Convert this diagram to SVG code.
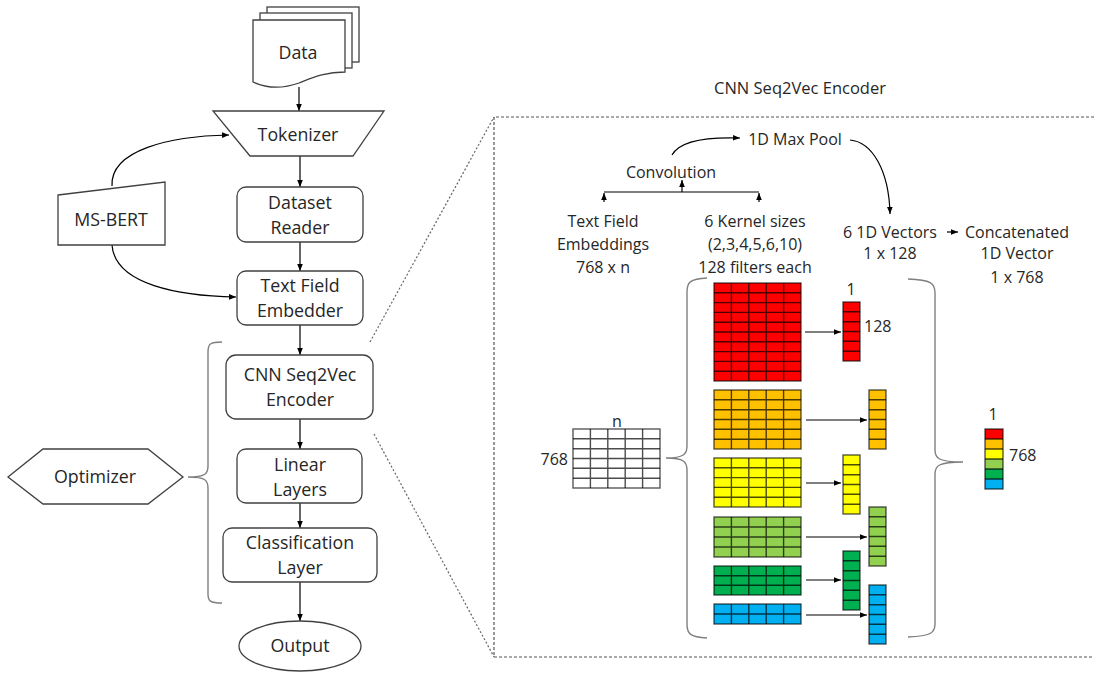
<svg xmlns="http://www.w3.org/2000/svg" width="1094" height="673" viewBox="0 0 1094 673">
<defs>
<style>
text{font-family:"Open Sans","Noto Sans","Liberation Sans",sans-serif;fill:#262626;text-anchor:middle}
.f{font-size:17.8px}
.r{font-size:16px}
.t{font-size:16.5px}
.shape{fill:#fff;stroke:#404040;stroke-width:1.3}
.con{fill:none;stroke:#000;stroke-width:1.2}
.dash{fill:none;stroke:#555;stroke-width:1.2;stroke-dasharray:3 2}
.dot{fill:none;stroke:#666;stroke-width:1.2;stroke-dasharray:2 2}
.brace{fill:none;stroke:#7f7f7f;stroke-width:1.4}
.gl{fill:none;stroke:#000;stroke-opacity:0.7;stroke-width:1.4}
.go{stroke:#000;stroke-opacity:0.65;stroke-width:1.4}
</style>
<marker id="ah" viewBox="0 0 10 10" refX="10" refY="5" markerWidth="7" markerHeight="7" markerUnits="userSpaceOnUse" orient="auto">
<path d="M0,1 L10,5 L0,9 z" fill="#000"/>
</marker>
</defs>
<rect width="1094" height="673" fill="#fff"/>

<g id="connectors">
<line class="con" x1="299" y1="87" x2="299" y2="111" marker-end="url(#ah)"/>
<line class="con" x1="300" y1="156" x2="300" y2="187" marker-end="url(#ah)"/>
<line class="con" x1="300" y1="242" x2="300" y2="271" marker-end="url(#ah)"/>
<line class="con" x1="300" y1="325" x2="300" y2="355" marker-end="url(#ah)"/>
<line class="con" x1="300" y1="419" x2="300" y2="449" marker-end="url(#ah)"/>
<line class="con" x1="300" y1="503" x2="300" y2="528" marker-end="url(#ah)"/>
<line class="con" x1="300" y1="582" x2="300" y2="621" marker-end="url(#ah)"/>
<path class="con" d="M112,186 C110,150 170,136 229,135" marker-end="url(#ah)"/>
<path class="con" d="M112,245 C115,285 180,296 236,297" marker-end="url(#ah)"/>
<path class="dot" d="M370,342 L494,117"/>
<path class="dot" d="M374,434 L494,657"/>
<path class="dash" d="M1094,117 H494 V657 H1094"/>
<path class="brace" d="M222,342 C210,342 208,344 208,352 L208,466 C208,474 205,477 188,477 C205,477 208,480 208,488 L208,594 C208,601 210,603 222,603"/>
<path class="con" d="M672,155 C680,140 710,137 740,138" marker-end="url(#ah)"/>
<path class="con" d="M850,140 C872,142 889,170 890,214" marker-end="url(#ah)"/>
<path class="con" d="M604,192 H759"/>
<line class="con" x1="604" y1="202" x2="604" y2="193" marker-end="url(#ah)"/>
<line class="con" x1="759" y1="202" x2="759" y2="193" marker-end="url(#ah)"/>
<line class="con" x1="682" y1="192" x2="682" y2="180" marker-end="url(#ah)"/>
<line class="con" x1="947" y1="232" x2="958" y2="232" marker-end="url(#ah)"/>
<path class="brace" d="M707,278 C690,279 687,282 687,292 L687,446 C687,454 684,458 666,458 C684,458 687,462 687,470 L687,624 C687,634 690,637 707,638"/>
<path class="brace" d="M908,279 C931,280 935,283 935,293 L935,450 C935,458 938,462 963,462 C938,462 935,466 935,474 L935,624 C935,633 931,636 908,637"/>
<line class="con" x1="805" y1="332" x2="841" y2="332" marker-end="url(#ah)"/>
<line class="con" x1="806" y1="420" x2="867" y2="420" marker-end="url(#ah)"/>
<line class="con" x1="806" y1="483" x2="841" y2="483" marker-end="url(#ah)"/>
<line class="con" x1="806" y1="537" x2="867" y2="537" marker-end="url(#ah)"/>
<line class="con" x1="806" y1="580" x2="841" y2="580" marker-end="url(#ah)"/>
<line class="con" x1="806" y1="615" x2="867" y2="615" marker-end="url(#ah)"/>
</g>

<g id="data">
<rect class="shape" x="267" y="7" width="92" height="55"/>
<rect class="shape" x="260" y="13" width="92" height="55"/>
<path class="shape" d="M253,20 H345 V72 C325,72 312,78 299,83 C285,88 268,89 253,82 Z"/>
<text class="f" x="298" y="59">Data</text>
</g>
<g id="tokenizer">
<path class="shape" d="M213,111 H384 L353,156 H250 Z"/>
<text class="f" x="298" y="141">Tokenizer</text>
</g>
<g id="ms-bert">
<path class="shape" d="M58,195 L165,182 V245 H58 Z"/>
<text class="f" x="111" y="226">MS-BERT</text>
</g>
<g id="dataset-reader">
<rect class="shape" x="237" y="187" width="126" height="55" rx="9"/>
<text class="f" x="300" y="209">Dataset</text>
<text class="f" x="300" y="234">Reader</text>
</g>
<g id="text-field-embedder">
<rect class="shape" x="237" y="271" width="126" height="54" rx="9"/>
<text class="f" x="300" y="292">Text Field</text>
<text class="f" x="300" y="317">Embedder</text>
</g>
<g id="cnn-encoder">
<rect class="shape" x="226" y="355" width="147" height="64" rx="10"/>
<text class="f" x="300" y="381">CNN Seq2Vec</text>
<text class="f" x="300" y="406">Encoder</text>
</g>
<g id="linear-layers">
<rect class="shape" x="237" y="449" width="125" height="54" rx="9"/>
<text class="f" x="300" y="471">Linear</text>
<text class="f" x="300" y="496">Layers</text>
</g>
<g id="classification-layer">
<rect class="shape" x="223" y="528" width="154" height="54" rx="9"/>
<text class="f" x="300" y="549">Classification</text>
<text class="f" x="300" y="574">Layer</text>
</g>
<g id="output">
<ellipse class="shape" cx="300" cy="646" rx="61" ry="25"/>
<text class="f" x="300" y="652">Output</text>
</g>
<g id="optimizer">
<path class="shape" d="M8,477 L43,449 H148 L183,477 L148,504 H43 Z"/>
<text class="f" x="95" y="483">Optimizer</text>
</g>

<g id="cnn-panel">
<text class="t" x="800" y="94">CNN Seq2Vec Encoder</text>
<text class="r" x="795" y="144.5">1D Max Pool</text>
<text class="r" x="671" y="177.5">Convolution</text>
<text class="r" x="603" y="226.5">Text Field</text>
<text class="r" x="603" y="249.5">Embeddings</text>
<text class="r" x="603" y="272.5">768 x n</text>
<text class="r" x="755" y="226.5">6 Kernel sizes</text>
<text class="r" x="755" y="249.5">(2,3,4,5,6,10)</text>
<text class="r" x="755" y="272.5">128 filters each</text>
<text class="r" x="890" y="237.5">6 1D Vectors</text>
<text class="r" x="890" y="258.5">1 x 128</text>
<text class="r" x="1017" y="237.5">Concatenated</text>
<text class="r" x="1017" y="258.5">1D Vector</text>
<text class="r" x="1017" y="282.5">1 x 768</text>
</g>

<g id="input-matrix">
<rect class="go" x="573" y="429" width="87" height="59" fill="#fff"/>
<path class="gl" d="M590.4,429V488M607.8,429V488M625.2,429V488M642.6,429V488M573,438.8H660M573,448.7H660M573,458.5H660M573,468.3H660M573,478.2H660"/>
<text class="r" x="617" y="427">n</text>
<text class="r" x="568" y="465" style="text-anchor:end">768</text>
</g>

<g id="conv-filters">
<rect class="go" x="714" y="283" width="87" height="98" fill="#FF0000"/>
<path class="gl" d="M731.4,283V381M748.8,283V381M766.2,283V381M783.6,283V381M714,292.8H801M714,302.6H801M714,312.4H801M714,322.2H801M714,332H801M714,341.8H801M714,351.6H801M714,361.4H801M714,371.2H801"/>
<rect class="go" x="714" y="390" width="87" height="59" fill="#FFC000"/>
<path class="gl" d="M731.4,390V449M748.8,390V449M766.2,390V449M783.6,390V449M714,399.8H801M714,409.7H801M714,419.5H801M714,429.3H801M714,439.2H801"/>
<rect class="go" x="714" y="458" width="87" height="49" fill="#FFFF00"/>
<path class="gl" d="M731.4,458V507M748.8,458V507M766.2,458V507M783.6,458V507M714,467.8H801M714,477.6H801M714,487.4H801M714,497.2H801"/>
<rect class="go" x="714" y="517" width="87" height="40" fill="#92D050"/>
<path class="gl" d="M731.4,517V557M748.8,517V557M766.2,517V557M783.6,517V557M714,527H801M714,537H801M714,547H801"/>
<rect class="go" x="714" y="566" width="87" height="29" fill="#00B050"/>
<path class="gl" d="M731.4,566V595M748.8,566V595M766.2,566V595M783.6,566V595M714,575.7H801M714,585.3H801"/>
<rect class="go" x="714" y="604" width="87" height="20" fill="#00B0F0"/>
<path class="gl" d="M731.4,604V624M748.8,604V624M766.2,604V624M783.6,604V624M714,614H801"/>
</g>

<g id="pooled-vectors">
<rect class="go" x="843" y="302" width="17" height="59" fill="#FF0000"/>
<path class="gl" d="M843,311.8H860M843,321.7H860M843,331.5H860M843,341.3H860M843,351.2H860"/>
<rect class="go" x="869" y="390" width="17" height="59" fill="#FFC000"/>
<path class="gl" d="M869,399.8H886M869,409.7H886M869,419.5H886M869,429.3H886M869,439.2H886"/>
<rect class="go" x="843" y="455" width="17" height="59" fill="#FFFF00"/>
<path class="gl" d="M843,464.8H860M843,474.7H860M843,484.5H860M843,494.3H860M843,504.2H860"/>
<rect class="go" x="869" y="507" width="17" height="59" fill="#92D050"/>
<path class="gl" d="M869,516.8H886M869,526.7H886M869,536.5H886M869,546.3H886M869,556.2H886"/>
<rect class="go" x="843" y="551" width="17" height="59" fill="#00B050"/>
<path class="gl" d="M843,560.8H860M843,570.7H860M843,580.5H860M843,590.3H860M843,600.2H860"/>
<rect class="go" x="869" y="585" width="17" height="59" fill="#00B0F0"/>
<path class="gl" d="M869,594.8H886M869,604.7H886M869,614.5H886M869,624.3H886M869,634.2H886"/>
<text class="r" x="851" y="295">1</text>
<text class="r" x="864" y="332" style="text-anchor:start">128</text>
</g>

<g id="concat-vector">
<rect x="985" y="429" width="18" height="10" fill="#FF0000"/>
<rect x="985" y="439" width="18" height="10" fill="#FFC000"/>
<rect x="985" y="449" width="18" height="10" fill="#FFFF00"/>
<rect x="985" y="459" width="18" height="10" fill="#92D050"/>
<rect x="985" y="469" width="18" height="10" fill="#00B050"/>
<rect x="985" y="479" width="18" height="10" fill="#00B0F0"/>
<path class="gl" d="M985,439H1003M985,449H1003M985,459H1003M985,469H1003M985,479H1003"/>
<rect class="go" x="985" y="429" width="18" height="60" fill="none"/>
<text class="r" x="993" y="420">1</text>
<text class="r" x="1009" y="461" style="text-anchor:start">768</text>
</g>
</svg>
